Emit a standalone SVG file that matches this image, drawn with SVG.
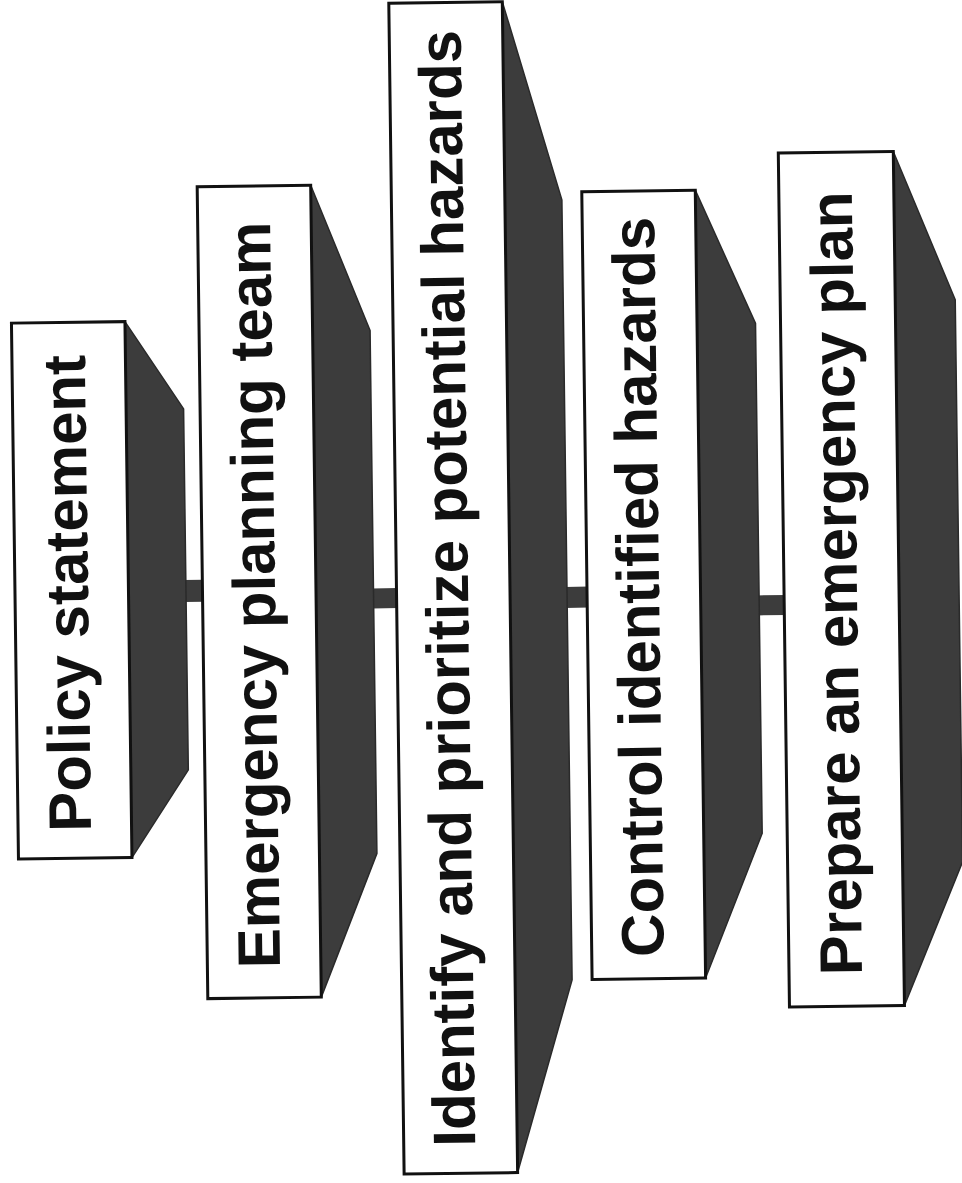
<svg xmlns="http://www.w3.org/2000/svg" width="962" height="1183" viewBox="0 0 962 1183">
  <style>
    .face { fill: #ffffff; stroke: #111111; stroke-width: 3; }
    .side { fill: #3c3c3c; stroke: #2a2a2a; stroke-width: 1.5; stroke-linejoin: round; }
    .link { fill: #3c3c3c; }
    .label { font-family: "Liberation Sans", Arial, Helvetica, sans-serif; font-weight: bold; font-size: 60px; fill: #111111; text-anchor: middle; }
  </style>
  <rect width="962" height="1183" fill="#ffffff"/>
  <g transform="rotate(-0.75 481 591)">
    <!-- links between consecutive steps -->
    <g id="connectors">
      <rect class="link" x="184" y="576" width="20" height="22"/>
      <rect class="link" x="372" y="587" width="26" height="20"/>
      <rect class="link" x="565" y="588" width="24" height="21"/>
      <rect class="link" x="757" y="599" width="29" height="20"/>
    </g>

    <g id="step1">
      <polygon class="side" points="128.5,317 186,405 186,766 128.5,853"/>
      <rect class="face" x="15" y="317" width="113.5" height="536"/>
      <text class="label" transform="translate(88 588) rotate(-90)">Policy statement</text>
    </g>

    <g id="step2">
      <polygon class="side" points="316,183 373.5,329 373.5,852 316,995"/>
      <rect class="face" x="202.5" y="183" width="113.5" height="812"/>
      <text class="label" transform="translate(275 592) rotate(-90)">Emergency planning team</text>
    </g>

    <g id="step3">
      <polygon class="side" points="510,2 567,201 567,981 510,1173"/>
      <rect class="face" x="396.5" y="2" width="113.5" height="1171"/>
      <text class="label" transform="translate(468 588) rotate(-90)">Identify and prioritize potential hazards</text>
    </g>

    <g id="step4">
      <polygon class="side" points="700.5,193 759,327 759,837 700.5,981"/>
      <rect class="face" x="587" y="193" width="113.5" height="788"/>
      <text class="label" transform="translate(659 589) rotate(-90)">Control identified hazards</text>
    </g>

    <g id="step5">
      <polygon class="side" points="899,157 959,306 959,868 899,1011"/>
      <rect class="face" x="784" y="157" width="115" height="854"/>
      <text class="label" transform="translate(857 588) rotate(-90)">Prepare an emergency plan</text>
    </g>
  </g>
</svg>
